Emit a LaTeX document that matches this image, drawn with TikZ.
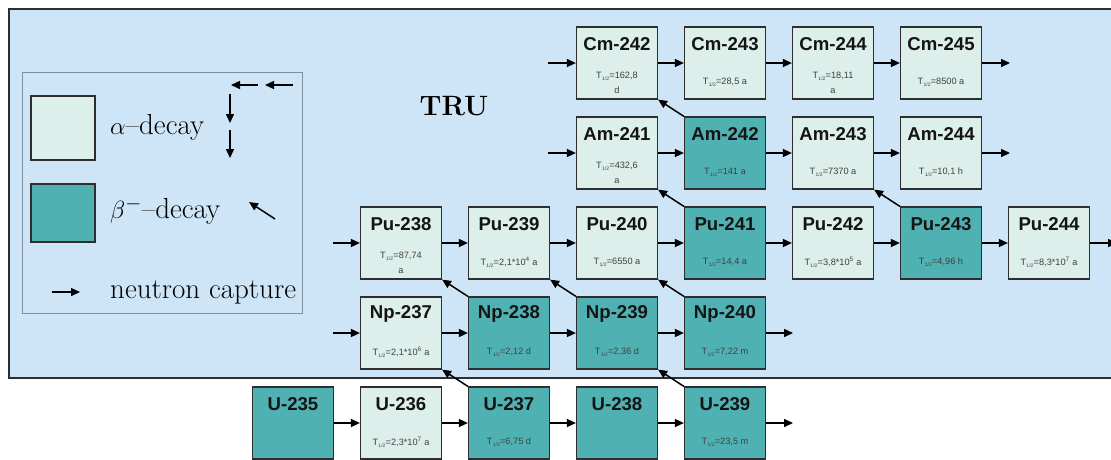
\documentclass[tikz,border=0pt]{standalone}
\usepackage{fontspec}
\newfontfamily\boxfont{Liberation Sans}
\usetikzlibrary{arrows.meta}
\definecolor{bgblue}{HTML}{CDE5F7}
\definecolor{alphac}{HTML}{DDEFEA}
\definecolor{betac}{HTML}{50B1B2}
\definecolor{edgec}{HTML}{2E2E2E}
\definecolor{legline}{HTML}{7F8E9C}
\newcommand\Th{T\kern0.3pt\raisebox{-0.4ex}{\fontsize{5}{5}\selectfont 1/2}\kern0.3pt}
\newcommand\iso[6]{%
  \node[#4] (#1) at (#2,#3) {};
  \node[nm] (#1n) at ([yshift=-18pt]#1.north) {#5};
  \node[hl] (#1h) at ([yshift=-56pt]#1.north) {#6};
}
\newcommand\isoe[5]{%
  \node[#4] (#1) at (#2,#3) {};
  \node[nm] (#1n) at ([yshift=-18pt]#1.north) {#5};
}
\begin{document}
\begin{tikzpicture}[x=1pt,y=-1pt,
  isobox/.style={draw=edgec,line width=1.2pt,minimum width=81pt,minimum height=72pt,inner sep=0pt},
  alphab/.style={isobox,fill=alphac},
  betab/.style={isobox,fill=betac},
  nm/.style={font=\boxfont\bfseries\fontsize{18.6}{20}\selectfont,text=black!92,inner sep=0pt},
  hl/.style={font=\boxfont\fontsize{9.2}{15}\selectfont,text=black!75,align=center,inner sep=0pt},
  ncap/.style={line width=1.5pt,-{Triangle[length=9pt,width=8pt]}},
  bdec/.style={line width=1.5pt,-{Triangle[length=9pt,width=8pt]}},
  legtext/.style={font=\fontsize{29}{32}\selectfont,anchor=west,inner sep=0pt}]
\useasboundingbox (0,0) rectangle (1111,459);
\fill[white] (0,0) rectangle (1111,459);
\draw[fill=bgblue,draw=edgec,line width=1.6pt] (9,9) rectangle (1125,378);

% legend
\draw[legline,line width=0.8pt] (22,72) rectangle (302,313);
\node[isobox,fill=alphac,minimum width=64pt,minimum height=64pt] (legA) at (63,128) {};
\node[isobox,fill=betac,minimum width=64pt,minimum height=58pt] (legB) at (63,213) {};
\node[legtext] (legAt) at (110,127) {$\alpha$--decay};
\node[legtext] (legBt) at (110,211) {$\beta^-$--decay};
\node[legtext] (legNt) at (110,292) {neutron capture};
\coordinate (la1s) at (258,85); \coordinate (la1e) at (231,85);
\coordinate (la2s) at (293,85); \coordinate (la2e) at (265,85);
\coordinate (ld1s) at (230,94); \coordinate (ld1e) at (230,123);
\coordinate (ld2s) at (230,130); \coordinate (ld2e) at (230,158);
\coordinate (lbs) at (275,219); \coordinate (lbe) at (249,202);
\coordinate (lns) at (52,292); \coordinate (lne) at (80,292);
\draw[ncap] (la1s) -- (la1e);
\draw[ncap] (la2s) -- (la2e);
\draw[ncap] (ld1s) -- (ld1e);
\draw[ncap] (ld2s) -- (ld2e);
\draw[bdec] (lbs) -- (lbe);
\draw[ncap] (lns) -- (lne);

\node[font=\bfseries\fontsize{28}{30}\selectfont,inner sep=0pt] (tru) at (454,106) {TRU};

% Cm row
\iso{Cm242}{617}{63}{alphab}{Cm-242}{\Th=162,8\\d}
\iso{Cm243}{725}{63}{alphab}{Cm-243}{\Th=28,5 a}
\iso{Cm244}{833}{63}{alphab}{Cm-244}{\Th=18,11\\a}
\iso{Cm245}{941}{63}{alphab}{Cm-245}{\Th=8500 a}
% Am row
\iso{Am241}{617}{153}{alphab}{Am-241}{\Th=432,6\\a}
\iso{Am242}{725}{153}{betab}{Am-242}{\Th=141 a}
\iso{Am243}{833}{153}{alphab}{Am-243}{\Th=7370 a}
\iso{Am244}{941}{153}{alphab}{Am-244}{\Th=10,1 h}
% Pu row
\iso{Pu238}{401}{243}{alphab}{Pu-238}{\Th=87,74\\a}
\iso{Pu239}{509}{243}{alphab}{Pu-239}{\Th=2,1*10\textsuperscript{4} a}
\iso{Pu240}{617}{243}{alphab}{Pu-240}{\Th=6550 a}
\iso{Pu241}{725}{243}{betab}{Pu-241}{\Th=14,4 a}
\iso{Pu242}{833}{243}{alphab}{Pu-242}{\Th=3,8*10\textsuperscript{5} a}
\iso{Pu243}{941}{243}{betab}{Pu-243}{\Th=4,96 h}
\iso{Pu244}{1049}{243}{alphab}{Pu-244}{\Th=8,3*10\textsuperscript{7} a}
% Np row
\iso{Np237}{401}{333}{alphab}{Np-237}{\Th=2,1*10\textsuperscript{6} a}
\iso{Np238}{509}{333}{betab}{Np-238}{\Th=2,12 d}
\iso{Np239}{617}{333}{betab}{Np-239}{\Th=2,36 d}
\iso{Np240}{725}{333}{betab}{Np-240}{\Th=7,22 m}
% U row
\isoe{U235}{293}{423}{betab}{U-235}
\iso{U236}{401}{423}{alphab}{U-236}{\Th=2,3*10\textsuperscript{7} a}
\iso{U237}{509}{423}{betab}{U-237}{\Th=6,75 d}
\isoe{U238}{617}{423}{betab}{U-238}
\iso{U239}{725}{423}{betab}{U-239}{\Th=23,5 m}

% free ends
\coordinate (cmin) at (548,63); \coordinate (cmout) at (1010,63);
\coordinate (amin) at (548,153); \coordinate (amout) at (1010,153);
\coordinate (puin) at (333,243); \coordinate (puout) at (1117,243);
\coordinate (npin) at (333,333); \coordinate (npout) at (793,333);
\coordinate (uout) at (793,423);

% neutron captures
\draw[ncap] (cmin) -- (Cm242.west);
\draw[ncap] (Cm242.east) -- (Cm243.west);
\draw[ncap] (Cm243.east) -- (Cm244.west);
\draw[ncap] (Cm244.east) -- (Cm245.west);
\draw[ncap] (Cm245.east) -- (cmout);
\draw[ncap] (amin) -- (Am241.west);
\draw[ncap] (Am241.east) -- (Am242.west);
\draw[ncap] (Am242.east) -- (Am243.west);
\draw[ncap] (Am243.east) -- (Am244.west);
\draw[ncap] (Am244.east) -- (amout);
\draw[ncap] (puin) -- (Pu238.west);
\draw[ncap] (Pu238.east) -- (Pu239.west);
\draw[ncap] (Pu239.east) -- (Pu240.west);
\draw[ncap] (Pu240.east) -- (Pu241.west);
\draw[ncap] (Pu241.east) -- (Pu242.west);
\draw[ncap] (Pu242.east) -- (Pu243.west);
\draw[ncap] (Pu243.east) -- (Pu244.west);
\draw[ncap] (Pu244.east) -- (puout);
\draw[ncap] (npin) -- (Np237.west);
\draw[ncap] (Np237.east) -- (Np238.west);
\draw[ncap] (Np238.east) -- (Np239.west);
\draw[ncap] (Np239.east) -- (Np240.west);
\draw[ncap] (Np240.east) -- (npout);
\draw[ncap] (U235.east) -- (U236.west);
\draw[ncap] (U236.east) -- (U237.west);
\draw[ncap] (U237.east) -- (U238.west);
\draw[ncap] (U238.east) -- (U239.west);
\draw[ncap] (U239.east) -- (uout);

% beta decays
\draw[bdec] (U237.north west) -- (Np237.south east);
\draw[bdec] (U239.north west) -- (Np239.south east);
\draw[bdec] (Np238.north west) -- (Pu238.south east);
\draw[bdec] (Np239.north west) -- (Pu239.south east);
\draw[bdec] (Np240.north west) -- (Pu240.south east);
\draw[bdec] (Pu241.north west) -- (Am241.south east);
\draw[bdec] (Pu243.north west) -- (Am243.south east);
\draw[bdec] (Am242.north west) -- (Cm242.south east);
\end{tikzpicture}
\end{document}
